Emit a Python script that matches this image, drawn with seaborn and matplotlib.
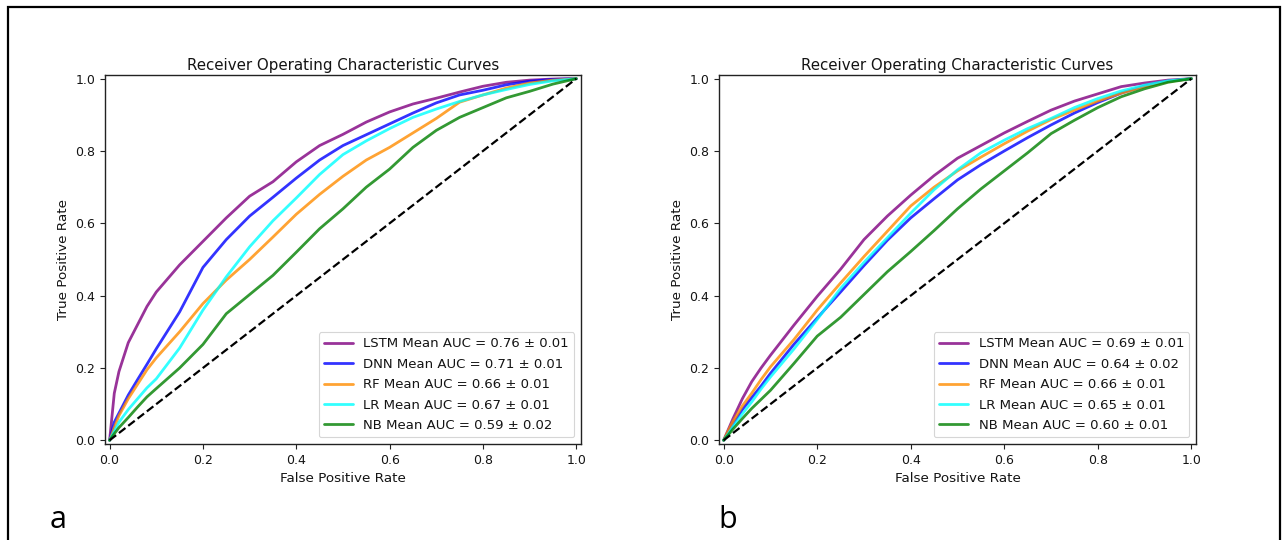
import numpy as np
import pandas as pd
import seaborn as sns
import matplotlib.pyplot as plt
from matplotlib.patches import Rectangle

# false positive rate grid shared by all curves
fpr = [0, .01, .02, .04, .06, .08, .1, .15, .2, .25, .3, .35, .4, .45,
       .5, .55, .6, .65, .7, .75, .8, .85, .9, .95, 1.0]

models = ["LSTM", "DNN", "RF", "LR", "NB"]
colors = ["purple", "blue", "darkorange", "aqua", "green"]

# panel a
tpr_a_lstm = [0, .13, .19, .27, .32, .37, .41, .485, .55, .615, .675, .715, .77, .815,
              .846, .88, .908, .93, .946, .963, .979, .99, .996, .999, 1.0]
tpr_a_dnn = [0, .05, .075, .125, .168, .21, .253, .355, .478, .555, .62, .672, .725, .775,
             .815, .845, .875, .905, .933, .955, .968, .983, .993, .998, 1.0]
tpr_a_rf = [0, .035, .068, .115, .155, .195, .228, .3, .378, .443, .5, .562, .625, .68,
            .73, .775, .81, .85, .89, .935, .955, .974, .988, .996, 1.0]
tpr_a_lr = [0, .025, .05, .085, .115, .145, .17, .255, .36, .452, .535, .607, .67, .735,
            .79, .828, .862, .893, .916, .937, .955, .97, .984, .994, 1.0]
tpr_a_nb = [0, .018, .035, .063, .092, .12, .143, .2, .265, .35, .403, .456, .52, .585,
            .64, .70, .75, .81, .857, .893, .92, .947, .965, .985, 1.0]
auc_a = ["0.76 ± 0.01", "0.71 ± 0.01", "0.66 ± 0.01", "0.67 ± 0.01", "0.59 ± 0.02"]

# panel b
tpr_b_lstm = [0, .03, .06, .115, .162, .2, .235, .318, .398, .473, .555, .62, .678, .732,
              .78, .815, .85, .882, .913, .938, .958, .978, .988, .996, 1.0]
tpr_b_dnn = [0, .022, .045, .085, .118, .15, .185, .265, .338, .41, .483, .553, .615, .668,
             .72, .762, .8, .837, .872, .905, .934, .96, .98, .993, 1.0]
tpr_b_rf = [0, .027, .052, .095, .13, .168, .203, .278, .36, .435, .508, .578, .648, .7,
            .745, .783, .82, .855, .887, .913, .938, .96, .978, .992, 1.0]
tpr_b_lr = [0, .018, .038, .073, .106, .142, .175, .252, .334, .42, .492, .56, .628, .693,
            .748, .795, .83, .862, .89, .92, .945, .966, .982, .994, 1.0]
tpr_b_nb = [0, .015, .031, .06, .088, .113, .138, .212, .288, .34, .403, .466, .522, .58,
            .64, .695, .745, .795, .848, .885, .92, .95, .972, .99, 1.0]
auc_b = ["0.69 ± 0.01", "0.64 ± 0.02", "0.66 ± 0.01", "0.65 ± 0.01", "0.60 ± 0.01"]

chance = [0, 1]

sns.set_theme(style="ticks")
plt.rcParams["font.family"] = ["DejaVu Sans"]
plt.rcParams.update({"text.color": "0.08", "axes.labelcolor": "0.08",
                     "xtick.color": "0.08", "ytick.color": "0.08"})

fig = plt.figure(figsize=(12.83, 5.40), dpi=100)
ax_a = fig.add_axes([0.0818, 0.178, 0.371, 0.683])
ax_b = fig.add_axes([0.5604, 0.178, 0.3718, 0.683])


def draw_panel(ax, curves, aucs):
    for name, col, tpr, auc in zip(models, colors, curves, aucs):
        sns.lineplot(x=fpr, y=tpr, ax=ax, color=col, lw=2, alpha=0.8,
                     label=f"{name} Mean AUC = {auc}")
    ax.plot(chance, chance, linestyle="--", color="black", lw=1.6)
    ax.set_xlim(-0.01, 1.01)
    ax.set_ylim(-0.01, 1.01)
    ax.set_xticks(np.arange(0, 1.01, 0.2))
    ax.set_yticks(np.arange(0, 1.01, 0.2))
    ax.tick_params(labelsize=9, length=3.5, width=0.8, color="#222222")
    for sp in ax.spines.values():
        sp.set_color("#222222")
        sp.set_linewidth(1.0)
    ax.set_xlabel("False Positive Rate", fontsize=9.7)
    ax.set_ylabel("True Positive Rate", fontsize=9.7)
    ax.set_title("Receiver Operating Characteristic Curves", fontsize=10.8, pad=4)
    leg = ax.legend(loc="lower right", fontsize=9.5, frameon=True, fancybox=True,
                    framealpha=0.8, edgecolor="0.8", handlelength=2.2,
                    labelspacing=0.56)
    leg.get_frame().set_linewidth(0.8)


draw_panel(ax_a, [tpr_a_lstm, tpr_a_dnn, tpr_a_rf, tpr_a_lr, tpr_a_nb], auc_a)
draw_panel(ax_b, [tpr_b_lstm, tpr_b_dnn, tpr_b_rf, tpr_b_lr, tpr_b_nb], auc_b)

fig.text(50 / 1283, 1 - 520 / 540, "a", fontsize=22, family=["Open Sans", "DejaVu Sans"],
         va="center", ha="left", color="black")
fig.text(718 / 1283, 1 - 520 / 540, "b", fontsize=22, family=["Open Sans", "DejaVu Sans"],
         va="center", ha="left", color="black")

# outer frame around the figure
fig.patches.append(Rectangle((8 / 1283, -0.05), (1280 - 8) / 1283, 1.05 - 7 / 540,
                             transform=fig.transFigure, fill=False,
                             edgecolor="black", lw=1.6))

fig.savefig("out.png", dpi=100)
